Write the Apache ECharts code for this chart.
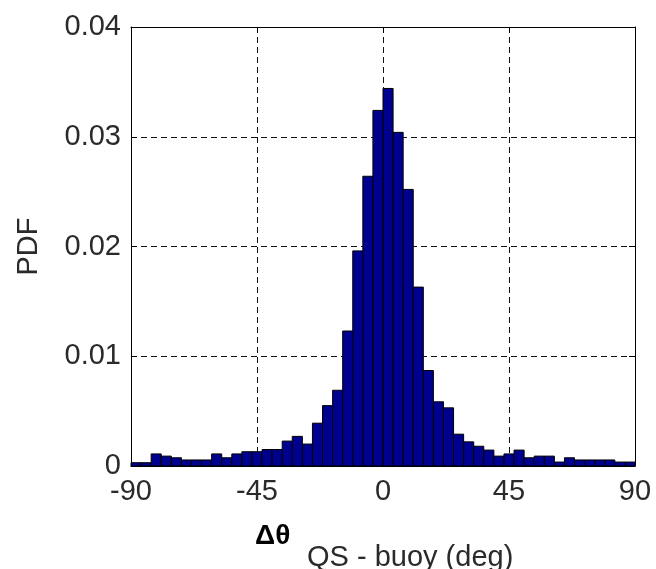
<!DOCTYPE html>
<html>
<head>
<meta charset="utf-8">
<script src="https://cdn.jsdelivr.net/npm/echarts@6/dist/echarts.min.js"></script>
<style>
html,body{margin:0;padding:0;background:#fff;}
#chart{width:656px;height:569px;}
</style>
</head>
<body>
<div id="chart"></div>
<script>
// Histogram: 50 bins of 3.6 deg from -90 to 90
const binStart = -90;
const binWidth = 3.6;
const pdfValues = [
  0.0003, 0.0003, 0.0011, 0.0009, 0.00075, 0.00055, 0.00055, 0.00055, 0.0011, 0.00075,
  0.0011, 0.0013, 0.0013, 0.0015, 0.0015, 0.00227, 0.0027, 0.002, 0.0039, 0.0055,
  0.0069, 0.0123, 0.0196, 0.0264, 0.0324, 0.0344, 0.0304, 0.0252, 0.0163, 0.0087,
  0.00585, 0.0053, 0.0029, 0.0022, 0.0018, 0.00145, 0.0009, 0.0011, 0.00145, 0.00075,
  0.0009, 0.0009, 0.00036, 0.00075, 0.00055, 0.00055, 0.00055, 0.00055, 0.00036, 0.00036
];
const xTicks = [-90, -45, 0, 45, 90];
const yTicks = [0, 0.01, 0.02, 0.03, 0.04];

const FONT = 'Liberation Sans, Arial, sans-serif';
const TEXT_COLOR = '#2a2a2a';
const data = pdfValues.map((v, i) => [binStart + i * binWidth, binStart + (i + 1) * binWidth, v]);

const chart = echarts.init(document.getElementById('chart'), null, {renderer: 'canvas'});
const option = {
  backgroundColor: '#fff',
  animation: false,
  grid: {left: 131, right: 21, top: 27, bottom: 103},
  xAxis: [{
    type: 'value', min: xTicks[0], max: xTicks[xTicks.length - 1], interval: 45,
    axisLine: {show: true, onZero: false, lineStyle: {color: '#000', width: 1}},
    axisTick: {show: true, inside: true, length: 6, lineStyle: {color: '#000'}},
    axisLabel: {show: true, margin: 11, color: TEXT_COLOR, fontSize: 29, fontFamily: FONT},
    splitLine: {show: true, lineStyle: {color: '#111', type: [6, 4], width: 1}}
  }, {
    type: 'value', position: 'top', min: xTicks[0], max: xTicks[xTicks.length - 1], interval: 45,
    axisLine: {show: true, onZero: false, lineStyle: {color: '#000', width: 1}},
    axisTick: {show: true, inside: true, length: 6, lineStyle: {color: '#000'}},
    axisLabel: {show: false}, splitLine: {show: false}
  }],
  yAxis: [{
    type: 'value', min: yTicks[0], max: yTicks[yTicks.length - 1], interval: 0.01,
    name: 'PDF', nameLocation: 'middle', nameGap: 88, nameRotate: 90,
    nameTextStyle: {color: TEXT_COLOR, fontSize: 29, fontFamily: FONT},
    axisLine: {show: true, onZero: false, lineStyle: {color: '#000', width: 1}},
    axisTick: {show: true, inside: true, length: 6, lineStyle: {color: '#000'}},
    axisLabel: {show: true, margin: 10, color: TEXT_COLOR, fontSize: 29, fontFamily: FONT},
    splitLine: {show: true, lineStyle: {color: '#111', type: [6, 4], width: 1}}
  }, {
    type: 'value', position: 'right', min: yTicks[0], max: yTicks[yTicks.length - 1], interval: 0.01,
    axisLine: {show: true, onZero: false, lineStyle: {color: '#000', width: 1}},
    axisTick: {show: true, inside: true, length: 6, lineStyle: {color: '#000'}},
    axisLabel: {show: false}, splitLine: {show: false}
  }],
  graphic: [
    {type: 'text', left: 255, top: 522, style: {text: 'Δθ', font: 'bold 28px ' + FONT, fill: '#000'}},
    {type: 'text', left: 307, top: 543, style: {text: 'QS - buoy (deg)', font: '29px ' + FONT, fill: TEXT_COLOR}}
  ],
  series: [{
    type: 'custom',
    xAxisIndex: 0, yAxisIndex: 0,
    data: data,
    encode: {x: [0, 1], y: 2},
    renderItem: function (params, api) {
      const p0 = api.coord([api.value(0), api.value(2)]);
      const p1 = api.coord([api.value(1), 0]);
      return {
        type: 'rect',
        shape: {x: p0[0], y: p0[1], width: p1[0] - p0[0], height: p1[1] - p0[1]},
        style: {fill: '#00008F', stroke: '#000', lineWidth: 1}
      };
    }
  }]
};
chart.setOption(option);
</script>
</body>
</html>
